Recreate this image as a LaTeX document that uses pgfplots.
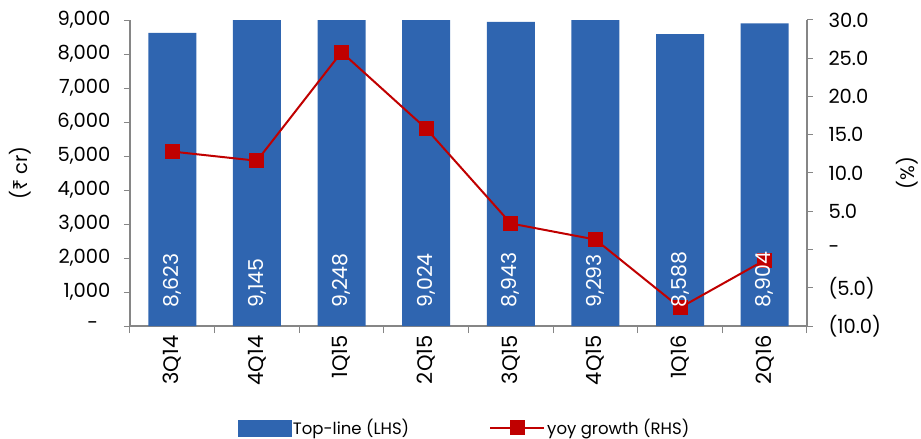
\documentclass[border=0pt]{standalone}
\usepackage{fontspec}
\setmainfont{Poppins}
\newfontfamily\rupeefont{Noto Sans}
\usepackage{pgfplots}
\pgfplotsset{compat=1.18}
\definecolor{barblue}{RGB}{47,101,176}
\definecolor{linered}{RGB}{192,0,0}
\definecolor{axgray}{RGB}{134,134,134}
\pgfplotstableread{
x top
0 8623
1 9145
2 9248
3 9024
4 8943
5 9293
6 8588
7 8904
}\topline
\pgfplotstableread{
x yoy
0 12.8
1 11.6
2 25.8
3 15.8
4 3.4
5 1.3
6 -7.6
7 -1.4
}\growth
\pgfplotstableread{
x pos v
0 530 8623
1 530 9145
2 530 9248
3 530 9024
4 530 8943
5 530 9293
6 530 8588
7 530 8904
}\labels
\pgfplotsset{
  redline legend/.style={legend image code/.code={\draw[##1, mark repeat=2, mark phase=2] plot coordinates {(0pt,0pt) (27pt,0pt) (54pt,0pt)};}},
}
\begin{document}
\begin{tikzpicture}
\pgfplotsset{every axis/.append style={
  scale only axis, width=677pt, height=306pt,
  xmin=-0.5, xmax=7.5,
  font=\fontsize{19.5}{21}\selectfont,
  tick align=outside,
  axis line style={axgray, line width=1.5pt},
  tick style={axgray, line width=1pt},
}}
\begin{axis}[
  axis y line*=left, axis x line*=bottom,
  ymin=0, ymax=9000,
  ytick={0,1000,...,9000},
  yticklabels={-\hphantom{0},{1,000},{2,000},{3,000},{4,000},{5,000},{6,000},{7,000},{8,000},{9,000}},
  yticklabel style={xshift=-10pt},
  xtick={0,...,7},
  xticklabels={3Q14,4Q14,1Q15,2Q15,3Q15,4Q15,1Q16,2Q16},
  major x tick style={draw=none},
  minor xtick={-0.5,0.5,...,7.5},
  major tick length=6pt, minor tick length=7pt,
  xticklabel style={rotate=90, anchor=east, font=\fontsize{21}{23}\selectfont},
  ylabel={({\rupeefont ₹} cr)},
  ylabel style={at={(axis description cs:-0.1625,0.5)}, anchor=center},
]
\addplot[ybar, bar width=0.567, fill=barblue, draw=none] table[x=x, y=top] {\topline};
\end{axis}
\begin{axis}[
  axis y line*=right, axis x line=none,
  ymin=-10, ymax=30,
  ytick={-10,-5,...,30},
  yticklabels={(10.0),(5.0),-,5.0,10.0,15.0,20.0,25.0,30.0},
  yticklabel style={anchor=west, xshift=12pt},
  major tick length=6pt,
  ylabel={(\%)},
  ylabel style={at={(axis description cs:1.1477,0.5)}, anchor=center},
  legend style={at={(axis description cs:0.494,-0.333)}, anchor=center, draw=none,
    legend columns=2, font=\fontsize{16.5}{18}\selectfont,
    /tikz/every even column/.append style={column sep=78pt}},
]
\addlegendimage{legend image code/.code={\fill[barblue] (0pt,-8pt) rectangle (53pt,8pt);}}
\addlegendentry{Top-line (LHS)}
\addplot[linered, line width=2pt, mark=square*, mark size=6.5pt, mark options={solid, fill=linered}, redline legend]
  table[x=x, y=yoy] {\growth};
\addlegendentry{yoy growth (RHS)}
\end{axis}
\begin{axis}[hide axis, ymin=0, ymax=9000]
\addplot[only marks, mark=none, nodes near coords, point meta=explicit,
  nodes near coords={\pgfmathprintnumber[1000 sep={,}, assume math mode=true]{\pgfplotspointmeta}},
  every node near coord/.append style={rotate=90, anchor=west, inner sep=0pt, text=white, font=\fontsize{20.5}{22}\selectfont}]
  table[x=x, y=pos, meta=v] {\labels};
\end{axis}
\pgfresetboundingbox
\path (-130pt,-113pt) rectangle (791pt,326pt);
\end{tikzpicture}
\end{document}
